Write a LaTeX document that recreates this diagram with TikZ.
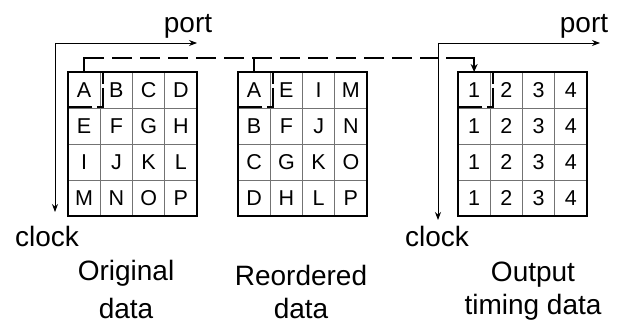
\documentclass[tikz,border=0pt]{standalone}
\usepackage{fontspec}
\setmainfont{Liberation Sans}
\usetikzlibrary{arrows.meta}
\begin{document}
\begin{tikzpicture}[x=1pt,y=-1pt,
  cell/.style={draw=black!55, line width=0.8pt, minimum width=32.25pt, minimum height=36pt,
    inner sep=0pt, outer sep=0pt, font=\fontsize{21.5}{25}\selectfont, text height=15.4pt, text depth=0pt},
  frame/.style={draw=black, line width=2.4pt},
  axis/.style={draw=black, line width=0.8pt, -{Stealth[length=8pt,width=6pt]}},
  lbl/.style={font=\fontsize{28}{34}\selectfont, inner sep=0pt, anchor=base},
  conn/.style={line width=2.4pt},
  conndash/.style={line width=2.4pt, dash pattern=on 20pt off 8pt},
  selbox/.style={line width=2.4pt}
]
\useasboundingbox (0,0) rectangle (622,326);

% grid 1: original data
\foreach \r/\row in {1/{A,B,C,D},2/{E,F,G,H},3/{I,J,K,L},4/{M,N,O,P}} {
  \foreach \t [count=\c] in \row {
    \node[cell] (g1-\r-\c) at ({68+(\c-0.5)*32.25},{72+(\r-0.5)*36}) {\t};
  }
}
% grid 2: reordered data
\foreach \r/\row in {1/{A,E,I,M},2/{B,F,J,N},3/{C,G,K,O},4/{D,H,L,P}} {
  \foreach \t [count=\c] in \row {
    \node[cell] (g2-\r-\c) at ({238+(\c-0.5)*32.25},{72+(\r-0.5)*36}) {\t};
  }
}
% grid 3: output timing data
\foreach \r in {1,2,3,4} {
  \foreach \t [count=\c] in {1,2,3,4} {
    \node[cell] (g3-\r-\c) at ({458+(\c-0.5)*32.25},{72+(\r-0.5)*36}) {\t};
  }
}
\draw[frame] (g1-1-1.north west) rectangle (g1-4-4.south east);
\draw[frame] (g2-1-1.north west) rectangle (g2-4-4.south east);
\draw[frame] (g3-1-1.north west) rectangle (g3-4-4.south east);

% selection boxes (dashed right and bottom edges of the first cell)
\foreach \g in {g1,g2,g3} {
  \draw[selbox] ([xshift=3pt]\g-1-1.north east) -- ([xshift=3pt,yshift=-12pt]\g-1-1.north east);
  \draw[selbox] ([xshift=3pt,yshift=-16pt]\g-1-1.north east) -- ([xshift=3pt,yshift=1pt]\g-1-1.south east) -- ([xshift=-3pt,yshift=1pt]\g-1-1.south east);
  \draw[selbox] ([xshift=-8pt,yshift=1pt]\g-1-1.south east) -- ([yshift=1pt]\g-1-1.south west);
}

% axes
\coordinate (o1) at (55,43);
\coordinate (px1) at (197,43);
\coordinate (cy1) at (55,212);
\draw[axis] (o1) -- (px1);
\draw[axis] (o1) -- (cy1);
\node[lbl] (port1) at (188,33) {port};
\node[lbl] (clock1) at (47,247) {clock};

\coordinate (o3) at (438,43);
\coordinate (px3) at (600,43);
\coordinate (cy3) at (438,220);
\draw[axis] (o3) -- (px3);
\draw[axis] (o3) -- (cy3);
\node[lbl] (port3) at (584,33) {port};
\node[lbl] (clock3) at (437,247) {clock};

% captions
\node[lbl] (cap1a) at (126,280) {Original};
\node[lbl] (cap1b) at (126,319) {data};
\node[lbl] (cap2a) at (301,285) {Reordered};
\node[lbl] (cap2b) at (301,319) {data};
\node[lbl] (cap3a) at (533,281) {Output};
\node[lbl] (cap3b) at (533,315) {timing data};

% data-flow connector
\coordinate (lineY) at (0,58);
\coordinate (p1) at (g1-1-1.north |- lineY);
\coordinate (pm) at (g2-1-1.north |- lineY);
\coordinate (p2) at (g3-1-1.north |- lineY);
\draw[conn] (g1-1-1.north) -- (p1) -- ([xshift=20pt]p1);
\draw[conndash] ([xshift=28pt]p1) -- ([xshift=-36pt]p2);
\draw[conn] (g2-1-1.north) -- (pm);
\draw[conn, -{Stealth[length=8pt,width=7pt]}] ([xshift=-28pt]p2) -- (p2) -- (g3-1-1.north);
\end{tikzpicture}
\end{document}
